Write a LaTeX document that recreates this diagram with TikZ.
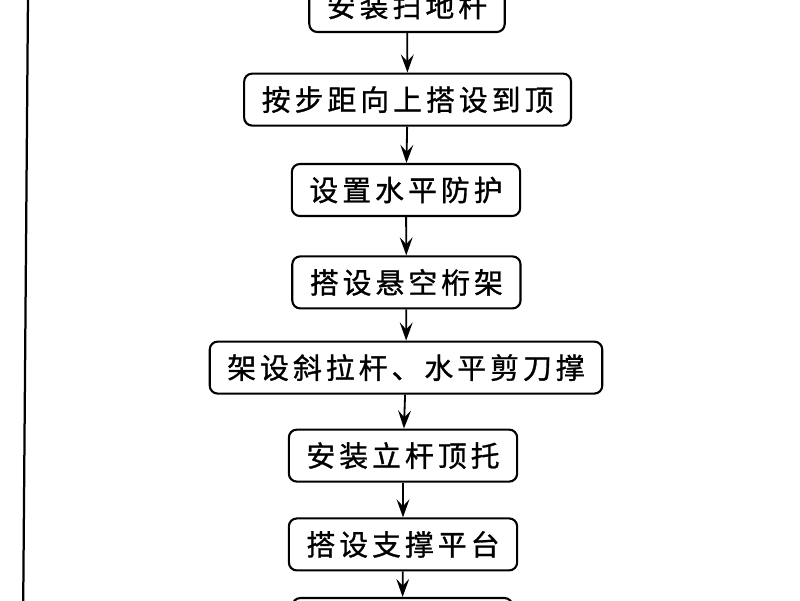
\documentclass[tikz,border=0pt]{standalone}
\usepackage{fontspec}
\usepackage{tikz}
\usetikzlibrary{arrows.meta}
\newfontfamily\cjk[LetterSpace=14,FakeBold=1]{Noto Sans CJK SC}

\begin{document}
\begin{tikzpicture}
   [
   stepbox/.style={rectangle, rounded corners=0.2cm, draw=black, fill=white, line width=1.5pt, minimum height=1.3cm, inner xsep=0.44cm, font=\cjk\fontsize{20.5}{24}\selectfont},
   blankbox/.style={stepbox, minimum width=5.5cm},
   flowarrow/.style={-{Stealth[length=0.45cm,width=0.32cm,inset=0.17cm]}, line width=1.3pt},
   frameline/.style={draw=black, line width=1.6pt},
   ]
 \path[use as bounding box, clip] (0,0) rectangle (20,-15);
 %\fill[white] (0,0) rectangle (20,-15);
 \coordinate (ltop) at (0.7,0.1);
 \coordinate (lbot) at (0.58,-15.1);
 \draw[frameline] (ltop) -- (lbot);
 \node at (10.175,-0.15) [stepbox]  (b1) {安装扫地杆};
 \node at (10.19,-2.49)  [stepbox]  (b2) {按步距向上搭设到顶};
 \node at (10.15,-4.75)  [stepbox]  (b3) {设置水平防护};
 \node at (10.16,-7.06)  [stepbox]  (b4) {搭设悬空桁架};
 \node at (10.15,-9.19)  [stepbox]  (b5) {架设斜拉杆、水平剪刀撑};
 \node at (10.075,-11.39) [stepbox] (b6) {安装立杆顶托};
 \node at (10.075,-13.61) [stepbox] (b7) {搭设支撑平台};
 \node at (10.06,-15.6)  [blankbox] (b8) {};
 \draw[flowarrow] (b1) -- (b2);
 \draw[flowarrow] (b2) -- (b3);
 \draw[flowarrow] (b3) -- (b4);
 \draw[flowarrow] (b4) -- (b5);
 \draw[flowarrow] (b5) -- (b6);
 \draw[flowarrow] (b6) -- (b7);
 \draw[flowarrow] (b7) -- (b8);
   \end{tikzpicture}
\end{document}
